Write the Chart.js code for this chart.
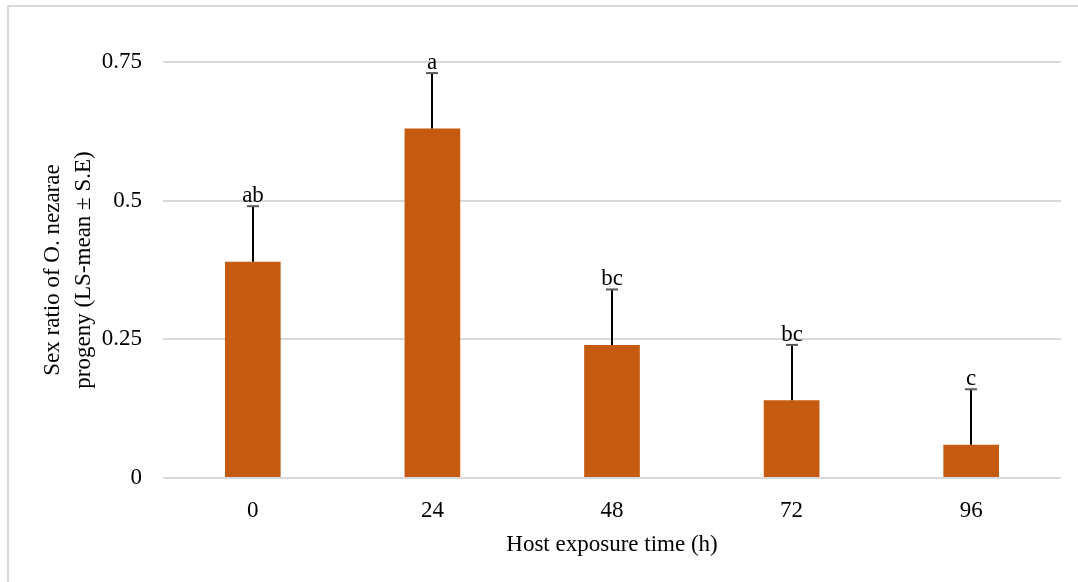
<!DOCTYPE html>
<html>
<head>
<meta charset="utf-8">
<script src="https://cdn.jsdelivr.net/npm/chart.js@4"></script>
<style>
  html, body { margin: 0; padding: 0; background: #fff; }
  #wrap { width: 1078px; height: 582px; position: relative; }
</style>
</head>
<body>
<div id="wrap"><canvas id="sex-ratio-chart"></canvas></div>
<script>
'use strict';

const exposureHours = ['0', '24', '48', '72', '96'];
const sexRatio = [0.39, 0.63, 0.24, 0.14, 0.06];
const stdError = [0.10, 0.10, 0.10, 0.10, 0.10];
const groupLetters = ['ab', 'a', 'bc', 'bc', 'c'];
const yTicks = [0, 0.25, 0.5, 0.75];

const COLORS = {
  bar: '#c55a11',
  grid: '#d9d9d9',
  text: '#000000',
  cap: '#595959',
};
const SERIF = '"Liberation Serif", "Times New Roman", serif';
const FONT_SIZE = 23;

// outer frame (only top/left edges are visible in the source)
const framePlugin = {
  id: 'frame',
  beforeDraw(chart) {
    const ctx = chart.ctx;
    ctx.save();
    ctx.strokeStyle = COLORS.grid;
    ctx.lineWidth = 2;
    ctx.beginPath();
    ctx.moveTo(8, 582);
    ctx.lineTo(8, 6);
    ctx.lineTo(1078, 6);
    ctx.stroke();
    ctx.restore();
  },
};

// one-sided error bars + significance letters
const errorBarPlugin = {
  id: 'errorBars',
  afterDatasetsDraw(chart) {
    const ctx = chart.ctx;
    const x = chart.scales.x;
    const y = chart.scales.y;
    ctx.save();
    sexRatio.forEach((v, i) => {
      const cx = Math.round(x.getPixelForValue(i));
      const yTop = y.getPixelForValue(v);
      const yErr = y.getPixelForValue(v + stdError[i]);
      ctx.strokeStyle = '#000';
      ctx.lineWidth = 2;
      ctx.beginPath();
      ctx.moveTo(cx, yTop);
      ctx.lineTo(cx, yErr);
      ctx.stroke();
      ctx.strokeStyle = COLORS.cap;
      ctx.beginPath();
      ctx.moveTo(cx - 6, yErr);
      ctx.lineTo(cx + 6, yErr);
      ctx.stroke();
      ctx.fillStyle = COLORS.text;
      ctx.font = FONT_SIZE + 'px ' + SERIF;
      ctx.textAlign = 'center';
      ctx.textBaseline = 'alphabetic';
      ctx.fillText(groupLetters[i], cx, yErr - 4);
    });
    ctx.restore();
  },
};

new Chart(document.getElementById('sex-ratio-chart'), {
  type: 'bar',
  data: {
    labels: exposureHours,
    datasets: [{
      data: sexRatio,
      backgroundColor: COLORS.bar,
      borderWidth: 0,
      barPercentage: 0.31,
      categoryPercentage: 1,
    }],
  },
  options: {
    responsive: true,
    maintainAspectRatio: false,
    animation: false,
    layout: { padding: { left: 0, right: 17, top: 62, bottom: 0 } },
    plugins: {
      legend: { display: false },
      tooltip: { enabled: false },
    },
    scales: {
      x: {
        grid: { display: false },
        border: { display: false },
        ticks: {
          color: COLORS.text,
          padding: 11,
          font: { family: SERIF, size: FONT_SIZE },
        },
        title: {
          display: true,
          text: 'Host exposure time (h)',
          color: COLORS.text,
          font: { family: SERIF, size: FONT_SIZE },
          padding: { top: 0, bottom: 23 },
        },
        afterFit(scale) { scale.height = 104; },
      },
      y: {
        min: 0,
        max: 0.75,
        afterBuildTicks(scale) { scale.ticks = yTicks.map(v => ({ value: v })); },
        grid: { color: COLORS.grid, lineWidth: 2, drawTicks: false },
        border: { display: false },
        ticks: {
          color: COLORS.text,
          padding: 21,
          font: { family: SERIF, size: FONT_SIZE },
          callback: (v) => String(v),
        },
        title: {
          display: true,
          text: ['Sex ratio of O. nezarae', 'progeny (LS-mean \u00b1 S.E)'],
          color: COLORS.text,
          font: { family: SERIF, size: FONT_SIZE, lineHeight: 1.35 },
          padding: { top: 37, bottom: 0 },
        },
        afterFit(scale) { scale.width = 163; },
      },
    },
  },
  plugins: [framePlugin, errorBarPlugin],
});
</script>
</body>
</html>
